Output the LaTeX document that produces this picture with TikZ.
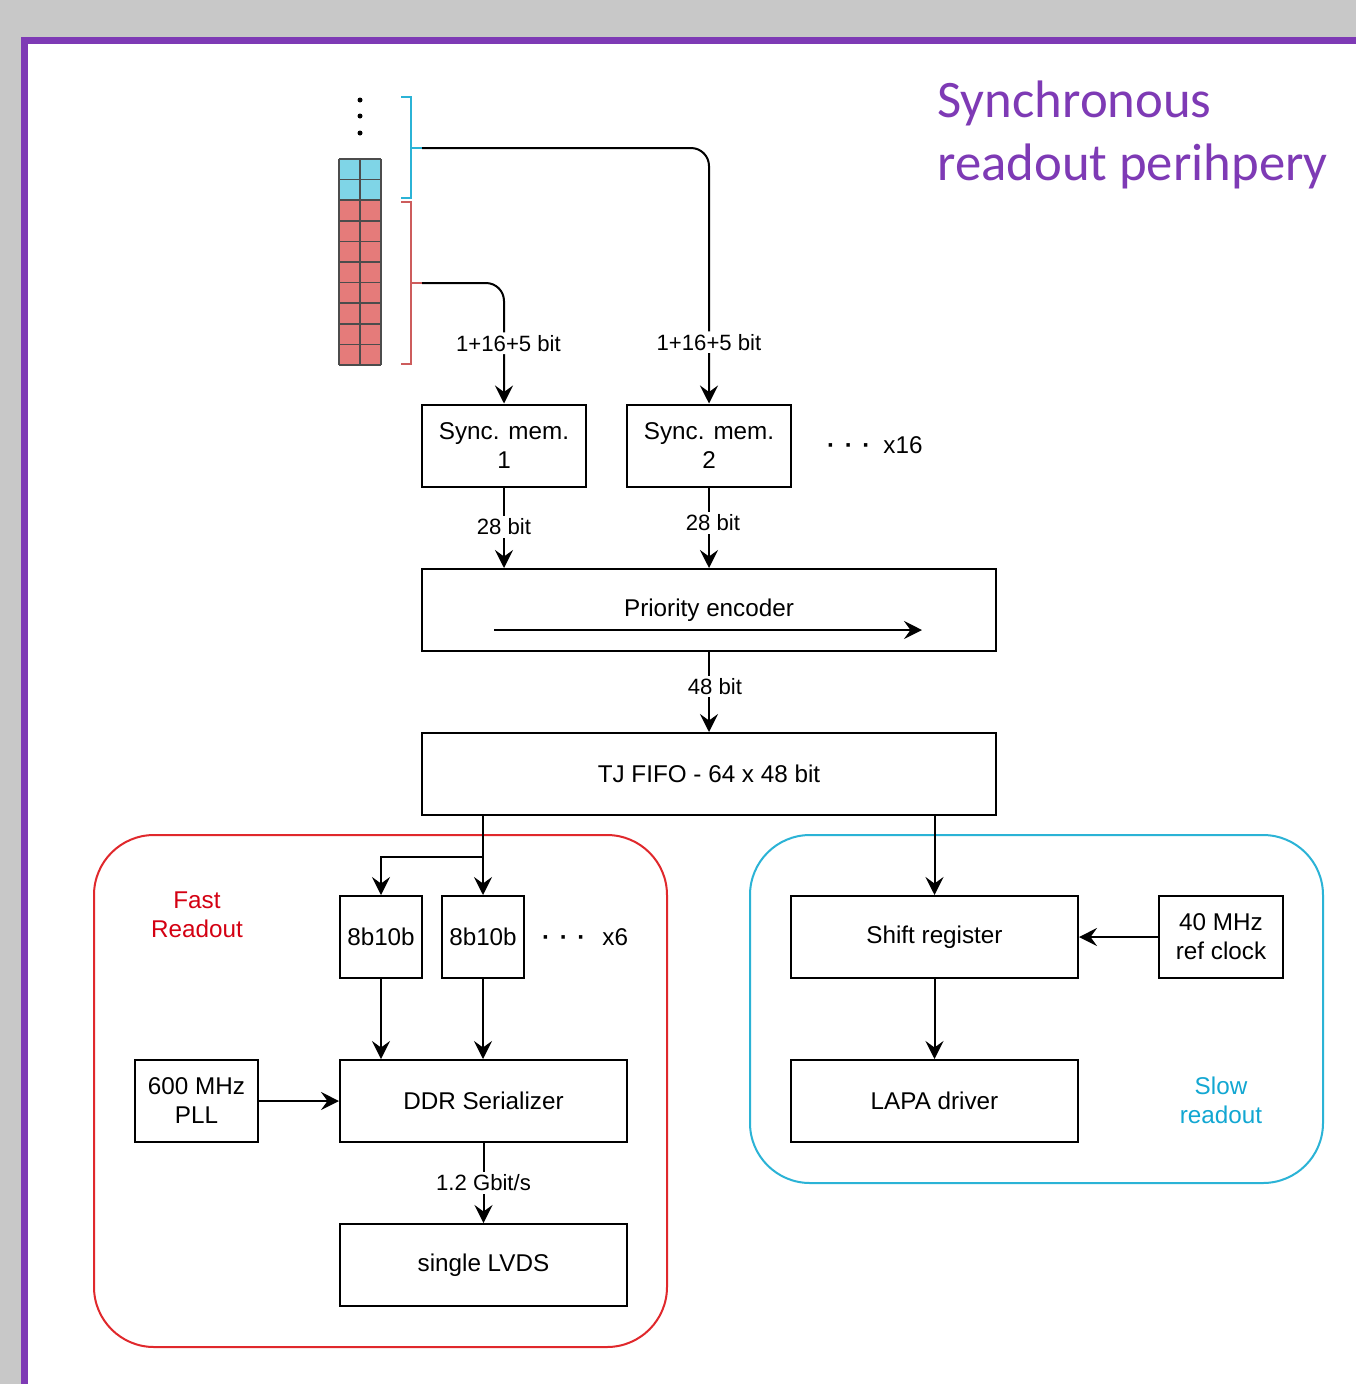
\documentclass[tikz,border=0pt]{standalone}
\usepackage{fontspec}
\setmainfont{Liberation Sans}
\newfontfamily\titlefont{Carlito}
\usetikzlibrary{arrows.meta,positioning}
\definecolor{Purple}{HTML}{7E3AB5}
\definecolor{Slide}{HTML}{C8C8C8}
\definecolor{FastRed}{HTML}{E0282C}
\definecolor{FastText}{HTML}{D40012}
\definecolor{SlowBlue}{HTML}{2BB3D6}
\definecolor{SlowText}{HTML}{12A7D2}
\definecolor{CellBlue}{HTML}{7FD5E7}
\definecolor{CellRed}{HTML}{E57B7A}
\definecolor{TapRed}{HTML}{CD5C5C}
\newcommand\blockfont{\fontsize{13.8}{16.5}\selectfont}
\newcommand\bitfont{\fontsize{12.6}{15}\selectfont}
\newcommand\moredots{{\bfseries·}\hspace{1.9mm}{\bfseries·}\hspace{1.9mm}{\bfseries·}}

\begin{document}
\begin{tikzpicture}[
  x=0.2mm,y=-0.2mm,
  >={Stealth[length=3.6mm,width=3.6mm,inset=1.3mm]},
  blockbox/.style={draw,line width=0.4mm,minimum height=16.4mm,inner sep=2pt,align=center,font=\blockfont},
  bitlabel/.style={fill=white,inner sep=1.5pt,font=\bitfont},
  bus/.style={->,line width=0.4mm},
  region/.style={line width=0.4mm,rounded corners=12mm},
  cellline/.style={black!70,line width=0.3mm}
]
  \useasboundingbox (0,0) rectangle (1356,1384);
  \fill[Slide] (0,0) rectangle (1356,1384);
  \fill[white] (21,37) rectangle (1356,1384);
  \draw[Purple,line width=1.4mm] (24.5,1384) -- (24.5,40.5) -- (1356,40.5);
  \node[font={\titlefont\fontsize{30}{35.7}\selectfont},text=Purple,align=left,anchor=base west,inner sep=0] (title) at (937,180) {Synchronous\\readout perihpery};

  % pixel column
  \fill[CellBlue] (339,159) rectangle (381,200);
  \fill[CellRed] (339,200) rectangle (381,365);
  \foreach \i in {0,...,10}
    \draw[cellline] (339,159+20.6*\i) -- (381,159+20.6*\i);
  \foreach \x in {339,360,381}
    \draw[cellline] (\x,159) -- (\x,365);
  \foreach \y in {100,116,133}
    \fill (360,\y) circle (0.5mm);
  \draw[SlowBlue,line width=0.4mm] (401,97) -- (411,97) -- (411,198) -- (401,198) (411,148) -- (422,148) coordinate (bluetap);
  \draw[TapRed,line width=0.4mm] (401,202) -- (411,202) -- (411,364) -- (401,364) (411,283) -- (422,283) coordinate (redtap);

  \node[blockbox,minimum width=32.8mm] (sync1) at (504,445.5) {Sync. mem.\\1};
  \node[blockbox,minimum width=32.8mm,right=7.8mm of sync1] (sync2) {Sync. mem.\\2};
  \node[font=\blockfont,right=5.8mm of sync2] (moremem) {\moredots\hspace{2.6mm}x16};
  \node[blockbox,minimum width=114.8mm] (pe) at (709,610) {Priority encoder};
  \node[blockbox,minimum width=114.8mm,below=16mm of pe] (fifo) {TJ FIFO - 64 x 48 bit};

  \draw[bus,rounded corners=3.6mm] (redtap) -| node[bitlabel,pos=0.75,xshift=0.9mm] (in1) {1+16+5 bit} (sync1.north);
  \draw[bus,rounded corners=3.6mm] (bluetap) -| node[bitlabel,pos=0.88] (in2) {1+16+5 bit} (sync2.north);
  \draw[bus] (sync1) -- node[bitlabel,pos=0.49] (out1) {28 bit} (sync1 |- pe.north);
  \draw[bus] (sync2) -- node[bitlabel,pos=0.44,xshift=0.8mm] (out2) {28 bit} (sync2 |- pe.north);
  \draw[bus] ([shift={(-215,20)}]pe.center) -- ([shift={(213,20)}]pe.center);
  \draw[bus] (pe) -- node[bitlabel,pos=0.43,xshift=1.2mm] (peout) {48 bit} (fifo);

  % fast readout
  \draw[region,FastRed] (94,835) rectangle (667,1347);
  \node[font=\blockfont,text=FastText,align=center] (fastname) at (197,915) {Fast\\Readout};
  \node[blockbox,minimum width=16.4mm] (enc1) at (381,937) {8b10b};
  \node[blockbox,minimum width=16.4mm,right=3.6mm of enc1] (enc2) {8b10b};
  \node[font=\blockfont,right=2.2mm of enc2] (moreenc) {\moredots\hspace{3.4mm}x6};
  \node[blockbox,minimum width=57.4mm] (ddr) at (483.5,1101) {DDR Serializer};
  \node[blockbox,minimum width=57.4mm,below=16mm of ddr] (lvds) {single LVDS};
  \node[blockbox,minimum width=24.6mm] (pll) at (196.5,1101) {600 MHz\\PLL};

  % slow readout
  \draw[region,SlowBlue] (750,835) rectangle (1323,1183);
  \node[font=\blockfont,text=SlowText,align=center] (slowname) at (1221,1100) {Slow\\readout};
  \node[blockbox,minimum width=57.4mm] (shift) at (934.5,937) {Shift register};
  \node[blockbox,minimum width=57.4mm,below=16mm of shift] (lapa) {LAPA driver};
  \node[blockbox,minimum width=24.8mm,right=15.8mm of shift] (refclk) {40 MHz\\ref clock};

  \coordinate (split) at (enc2 |- 0,857);
  \draw[bus] (enc2 |- fifo.south) -- (enc2);
  \draw[bus] (split) -| (enc1);
  \draw[bus] (shift |- fifo.south) -- (shift);
  \draw[bus] (enc1) -- (enc1 |- ddr.north);
  \draw[bus] (enc2) -- (enc2 |- ddr.north);
  \draw[bus] (pll) -- (ddr);
  \draw[bus] (ddr) -- node[bitlabel] (rate) {1.2 Gbit/s} (lvds);
  \draw[bus] (refclk) -- (shift);
  \draw[bus] (shift) -- (lapa);
\end{tikzpicture}
\end{document}
